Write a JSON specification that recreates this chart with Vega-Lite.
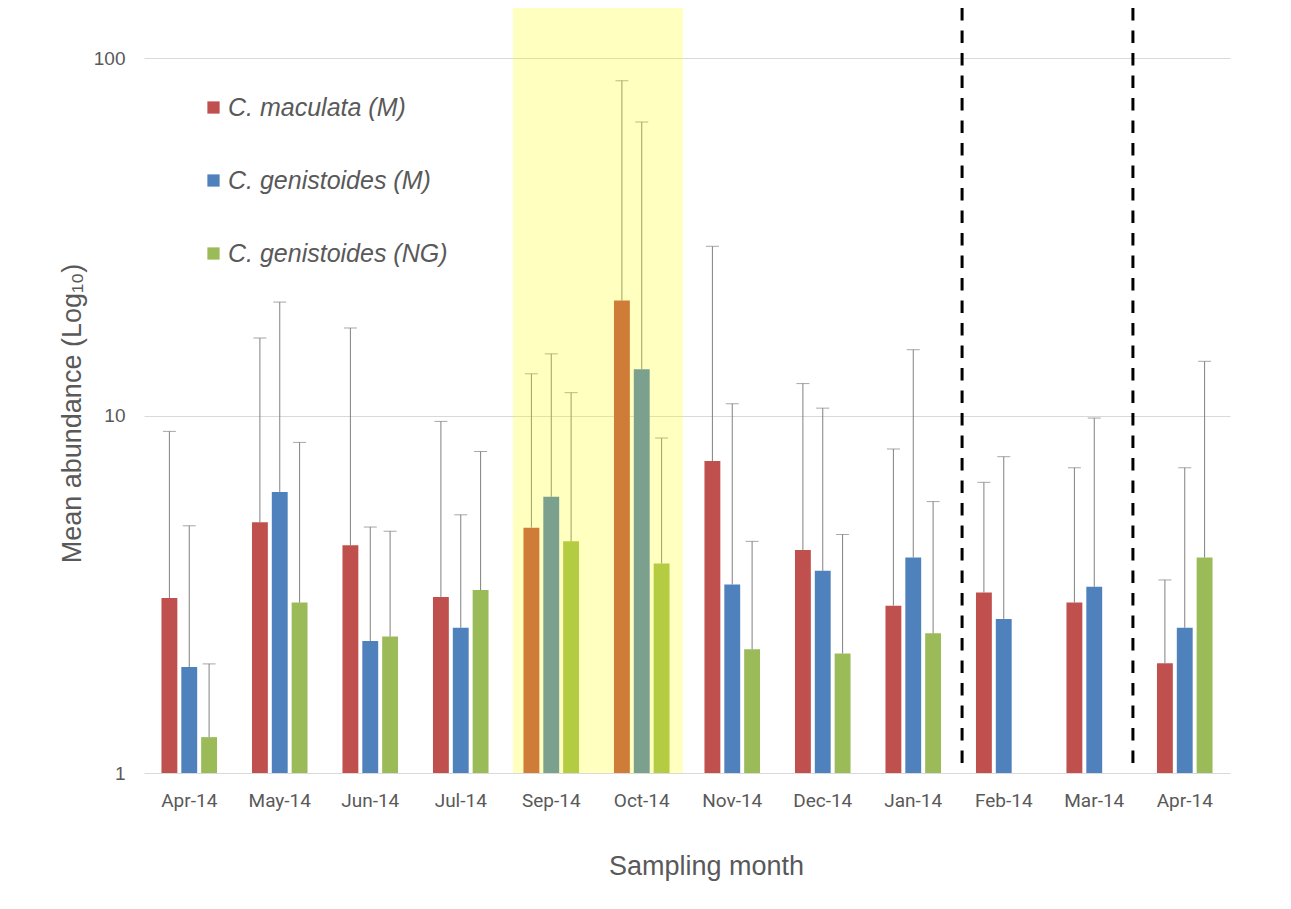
{
  "$schema": "https://vega.github.io/schema/vega-lite/v6.json",
  "autosize": {"type": "none"},
  "width": 1086,
  "height": 765,
  "padding": {"left": 144, "top": 8, "right": 61, "bottom": 136},
  "background": "white",
  "config": {"view": {"stroke": null}},
  "datasets": {
    "bars": [
      {"month": "Apr-14", "species": "C. maculata (M)", "mean": 3.09, "upper": 9.04},
      {"month": "Apr-14", "species": "C. genistoides (M)", "mean": 1.98, "upper": 4.92},
      {"month": "Apr-14", "species": "C. genistoides (NG)", "mean": 1.26, "upper": 2.02},
      {"month": "May-14", "species": "C. maculata (M)", "mean": 5.03, "upper": 16.5},
      {"month": "May-14", "species": "C. genistoides (M)", "mean": 6.12, "upper": 20.8},
      {"month": "May-14", "species": "C. genistoides (NG)", "mean": 3.0, "upper": 8.42},
      {"month": "Jun-14", "species": "C. maculata (M)", "mean": 4.34, "upper": 17.6},
      {"month": "Jun-14", "species": "C. genistoides (M)", "mean": 2.34, "upper": 4.88},
      {"month": "Jun-14", "species": "C. genistoides (NG)", "mean": 2.41, "upper": 4.75},
      {"month": "Jul-14", "species": "C. maculata (M)", "mean": 3.11, "upper": 9.64},
      {"month": "Jul-14", "species": "C. genistoides (M)", "mean": 2.55, "upper": 5.28},
      {"month": "Jul-14", "species": "C. genistoides (NG)", "mean": 3.25, "upper": 7.94},
      {"month": "Sep-14", "species": "C. maculata (M)", "mean": 4.86, "upper": 13.1},
      {"month": "Sep-14", "species": "C. genistoides (M)", "mean": 5.93, "upper": 14.9},
      {"month": "Sep-14", "species": "C. genistoides (NG)", "mean": 4.45, "upper": 11.6},
      {"month": "Oct-14", "species": "C. maculata (M)", "mean": 21.0, "upper": 86.6},
      {"month": "Oct-14", "species": "C. genistoides (M)", "mean": 13.5, "upper": 66.4},
      {"month": "Oct-14", "species": "C. genistoides (NG)", "mean": 3.86, "upper": 8.66},
      {"month": "Nov-14", "species": "C. maculata (M)", "mean": 7.47, "upper": 29.8},
      {"month": "Nov-14", "species": "C. genistoides (M)", "mean": 3.37, "upper": 10.8},
      {"month": "Nov-14", "species": "C. genistoides (NG)", "mean": 2.22, "upper": 4.45},
      {"month": "Dec-14", "species": "C. maculata (M)", "mean": 4.21, "upper": 12.3},
      {"month": "Dec-14", "species": "C. genistoides (M)", "mean": 3.68, "upper": 10.5},
      {"month": "Dec-14", "species": "C. genistoides (NG)", "mean": 2.16, "upper": 4.65},
      {"month": "Jan-14", "species": "C. maculata (M)", "mean": 2.94, "upper": 8.07},
      {"month": "Jan-14", "species": "C. genistoides (M)", "mean": 4.01, "upper": 15.3},
      {"month": "Jan-14", "species": "C. genistoides (NG)", "mean": 2.46, "upper": 5.75},
      {"month": "Feb-14", "species": "C. maculata (M)", "mean": 3.2, "upper": 6.51},
      {"month": "Feb-14", "species": "C. genistoides (M)", "mean": 2.7, "upper": 7.68},
      {"month": "Mar-14", "species": "C. maculata (M)", "mean": 3.0, "upper": 7.15},
      {"month": "Mar-14", "species": "C. genistoides (M)", "mean": 3.32, "upper": 9.85},
      {"month": "Apr-14 (2)", "species": "C. maculata (M)", "mean": 2.03, "upper": 3.47},
      {"month": "Apr-14 (2)", "species": "C. genistoides (M)", "mean": 2.55, "upper": 7.15},
      {"month": "Apr-14 (2)", "species": "C. genistoides (NG)", "mean": 4.01, "upper": 14.2}
    ],
    "highlight": [{"start": "Sep-14", "end": "Oct-14"}],
    "break1": [{"month": "Feb-14"}],
    "break2": [{"month": "Mar-14"}]
  },
  "layer": [
    {
      "data": {"name": "bars"},
      "mark": {"type": "bar"},
      "encoding": {
        "x": {
          "field": "month", "type": "nominal",
          "scale": {"domain": ["Apr-14", "May-14", "Jun-14", "Jul-14", "Sep-14", "Oct-14", "Nov-14", "Dec-14", "Jan-14", "Feb-14", "Mar-14", "Apr-14 (2)"], "paddingInner": 0.386, "paddingOuter": 0.193},
          "axis": {
            "title": "Sampling month", "labelExpr": "replace(datum.label, ' (2)', '')",
            "labelAngle": 0, "labelFont": "Roboto", "labelFontSize": 19, "labelColor": "#595959",
            "labelBaseline": "middle", "labelPadding": 27, "ticks": false, "domain": false, "grid": false,
            "titleFont": "Liberation Sans", "titleFontSize": 27, "titleFontWeight": "normal", "titleColor": "#595959",
            "titleX": 562, "titleY": 93, "titleBaseline": "middle", "titleAlign": "center"
          }
        },
        "xOffset": {
          "field": "species", "type": "nominal",
          "scale": {"domain": ["C. maculata (M)", "C. genistoides (M)", "C. genistoides (NG)"], "paddingInner": 0.2, "paddingOuter": 0}
        },
        "y": {
          "field": "mean", "type": "quantitative",
          "scale": {"type": "log", "domain": [1, 138.4], "nice": false},
          "axis": {
            "values": [1, 10, 100], "format": "d", "grid": true, "gridColor": "#D9D9D9", "gridWidth": 1,
            "domain": false, "ticks": false, "labelPadding": 19, "labelFont": "Liberation Sans", "labelFontSize": 19,
            "labelColor": "#595959", "title": "Mean abundance (Log₁₀)", "titleFont": "Liberation Sans", "titleFontSize": 27,
            "titleFontWeight": "normal", "titleColor": "#595959", "titleX": -64, "titleY": 405, "titleAngle": -90,
            "titleBaseline": "alphabetic", "titleAlign": "center"
          }
        },
        "y2": {"datum": 1},
        "color": {
          "field": "species", "type": "nominal",
          "scale": {"domain": ["C. maculata (M)", "C. genistoides (M)", "C. genistoides (NG)"], "range": ["#C0504D", "#4F81BD", "#9BBB59"]},
          "legend": {
            "orient": "none", "legendX": 57, "legendY": 87, "title": null, "padding": 0,
            "symbolType": "square", "symbolSize": 150, "symbolStrokeWidth": 0, "labelLimit": 500,
            "labelFont": "Liberation Sans", "labelFontStyle": "italic", "labelFontSize": 25, "labelColor": "#595959",
            "rowPadding": 47, "labelOffset": 2
          }
        }
      }
    },
    {
      "data": {"name": "bars"},
      "mark": {"type": "rule", "color": "#808080", "strokeWidth": 1},
      "encoding": {
        "x": {"field": "month", "type": "nominal"},
        "xOffset": {"field": "species", "type": "nominal"},
        "y": {"field": "mean", "type": "quantitative"},
        "y2": {"field": "upper"}
      }
    },
    {
      "data": {"name": "bars"},
      "mark": {"type": "tick", "color": "#808080", "size": 13, "thickness": 1},
      "encoding": {
        "x": {"field": "month", "type": "nominal"},
        "xOffset": {"field": "species", "type": "nominal"},
        "y": {"field": "upper", "type": "quantitative"}
      }
    },
    {
      "data": {"name": "highlight"},
      "mark": {"type": "rect", "color": "#FFFF00", "opacity": 0.25},
      "encoding": {
        "x": {"field": "start", "type": "nominal", "bandPosition": -0.19},
        "x2": {"field": "end", "bandPosition": 1.24}
      }
    },
    {
      "data": {"name": "break1"},
      "mark": {"type": "rule", "color": "#000000", "strokeWidth": 3, "strokeDash": [12.5, 10]},
      "encoding": {"x": {"field": "month", "type": "nominal", "bandPosition": -0.25}}
    },
    {
      "data": {"name": "break2"},
      "mark": {"type": "rule", "color": "#000000", "strokeWidth": 3, "strokeDash": [12.5, 10]},
      "encoding": {"x": {"field": "month", "type": "nominal", "bandPosition": 1.196}}
    }
  ]
}
